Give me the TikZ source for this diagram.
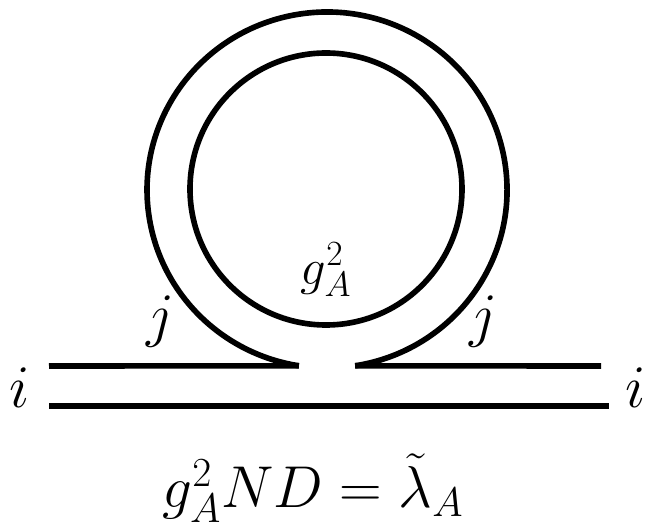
\RequirePackage{fix-cm}
\documentclass[tikz,border=0pt]{standalone}
\usetikzlibrary{positioning}

\begin{document}
\begin{tikzpicture}[
  x=0.025cm, y=0.025cm,
  dline/.style={line width=4pt, line cap=butt},
  idx/.style={inner sep=0pt, font=\fontsize{43}{50}\selectfont},
  coupling/.style={inner sep=0pt, font=\fontsize{36}{43}\selectfont},
  result/.style={inner sep=0pt, font=\fontsize{42}{50}\selectfont},
]
\useasboundingbox (0,0) rectangle (646,527);

% index lines
\coordinate (topL) at (49,161);
\coordinate (gapL) at (298.8,161.2);
\coordinate (gapR) at (355.2,161.2);
\coordinate (topR) at (601,161);
\coordinate (botL) at (49,121);
\coordinate (botR) at (609,121);

\draw[dline] (topL) -- (gapL);
\draw[dline] (gapR) -- (topR);
\draw[dline] (botL) -- (botR);

% loop
\draw[dline] (gapR) arc[start angle=-81, end angle=261, x radius=180, y radius=178];
\draw[dline] (326,338) circle[radius=136];

% labels
\node[idx] (iL) at (20,139) {$i$};
\node[idx] (iR) at (636,139) {$i$};
\node[idx] (jL) at (160,205) {$j$};
\node[idx] (jR) at (483,205) {$j$};
\node[coupling] (gA) at (326,257) {$g_A^2$};
\node[result, anchor=base] (rel) at (313,19) {$g_A^2ND=\tilde{\lambda}_A$};

\end{tikzpicture}
\end{document}
